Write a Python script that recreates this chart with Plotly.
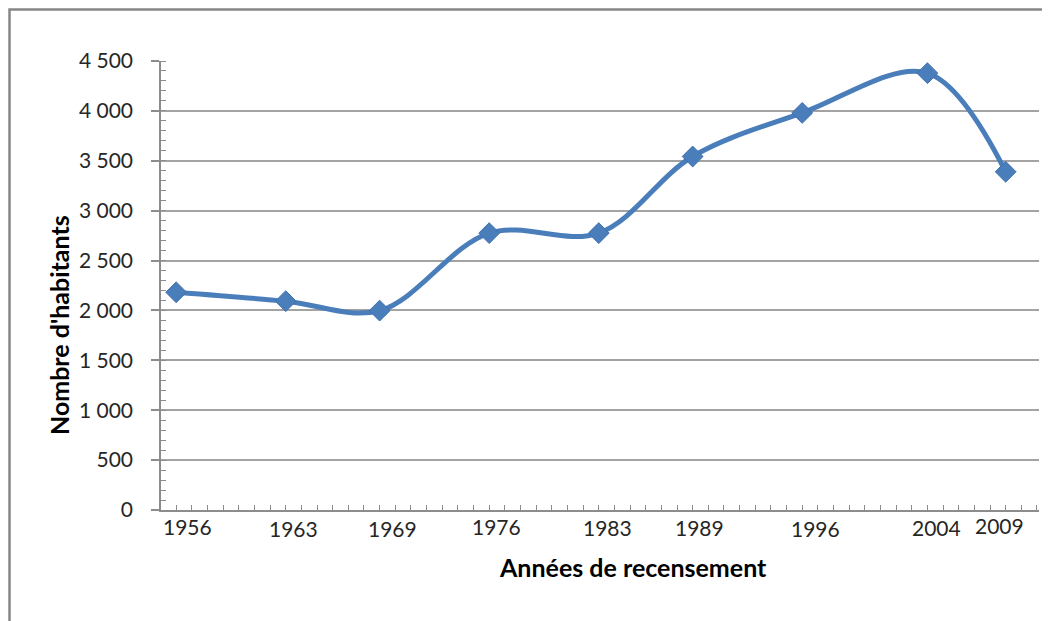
import plotly.graph_objects as go

# Data
years = [1956, 1963, 1969, 1976, 1983, 1989, 1996, 2004, 2009]
habitants = [2182, 2093, 1998, 2775, 2775, 3543, 3980, 4378, 3390]
x_labels = ["1956", "1963", "1969", "1976", "1983", "1989", "1996", "2004", "2009"]
y_ticks = [0, 500, 1000, 1500, 2000, 2500, 3000, 3500, 4000, 4500]
y_labels = ["0", "500", "1 000", "1 500", "2 000", "2 500", "3 000", "3 500", "4 000", "4 500"]

# label placement tweaks (px) to mimic hand-placed labels
label_xshift = [11, 8, 13, 7, 9, 7, 13, 9, -6]
label_yshift = [-16, -18, -18, -16, -17, -17, -18, -17, -15]

# page body has an 8px margin: work in window coordinates minus 8
OFF = 8
W, H = 1050 - OFF, 621 - OFF
L, T = 161 - OFF, 61 - OFF
PR, PB = 1039 - OFF, 510 - OFF
R, B = W - PR, H - PB
pw, ph = PR - L, PB - T

def px(x):
    return (x - OFF - L) / pw

def py(y):
    return (PB - (y - OFF)) / ph

FONT = "Lato"
GRID = "#a3a3a3"
AX = "#8c8c8c"
BLUE = "#4a7ebb"

fig = go.Figure()
fig.add_trace(go.Scatter(
    x=years, y=habitants, mode="lines+markers",
    line=dict(color=BLUE, width=5, shape="spline", smoothing=1.0),
    marker=dict(symbol="diamond", size=16, color=BLUE,
                line=dict(color="#4070b0", width=1)),
    hoverinfo="x+y", showlegend=False,
))

for yr, lab, dx, dy in zip(years, x_labels, label_xshift, label_yshift):
    fig.add_annotation(x=yr, y=0, xref="x", yref="paper", text=lab,
                       showarrow=False, xshift=dx, yshift=dy,
                       xanchor="center", yanchor="middle",
                       font=dict(family=FONT, size=21, color="#262626"))

fig.add_annotation(x=px(633), y=py(567), xref="paper", yref="paper",
                   xanchor="center", yanchor="middle",
                   text="<b>Années de recensement</b>", showarrow=False,
                   font=dict(family=FONT, size=25, color="#000000"))
fig.add_annotation(x=px(59), y=py(325), xref="paper", yref="paper",
                   xanchor="center", yanchor="middle",
                   text="<b>Nombre d'habitants</b>", showarrow=False, textangle=-90,
                   font=dict(family=FONT, size=25, color="#000000"))

# outer chart frame (top and left visible)
fig.add_shape(type="rect", xref="paper", yref="paper",
              x0=px(9.5), x1=px(1070), y0=py(640), y1=py(9.4),
              line=dict(color="#868686", width=2.5), layer="below")

fig.update_layout(
    width=W, height=H,
    margin=dict(l=L, r=R, t=T, b=B),
    paper_bgcolor="white", plot_bgcolor="white",
    font=dict(family=FONT, size=21, color="#262626"),
    xaxis=dict(
        range=[1955.03, 2011.13], showgrid=False, zeroline=False,
        showline=True, linecolor=AX, linewidth=1.5,
        showticklabels=False,
        ticks="inside", tick0=1955, dtick=1, ticklen=5, tickcolor=AX, tickwidth=1,
    ),
    yaxis=dict(
        range=[0, 4500], tickvals=y_ticks, ticktext=y_labels,
        showgrid=True, gridcolor=GRID, gridwidth=1.5, zeroline=False,
        showline=True, linecolor=AX, linewidth=1.5,
        ticks="outside", ticklen=8, tickcolor=AX, tickwidth=1.5,
        ticklabelstandoff=14,
        minor=dict(ticks="inside", dtick=100, ticklen=5, tickcolor=AX, tickwidth=1, showgrid=False),
        tickfont=dict(family=FONT, size=21, color="#262626"),
    ),
)

fig.write_html("out.html")
